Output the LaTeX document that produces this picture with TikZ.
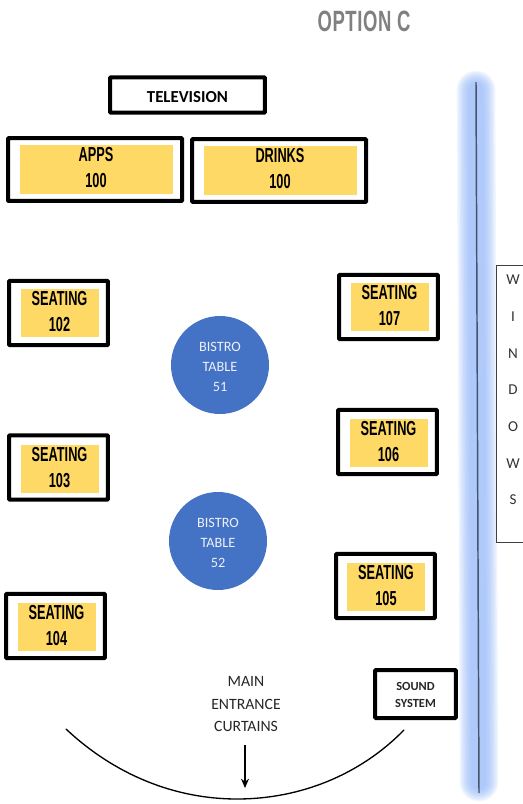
\documentclass[tikz,border=0pt]{standalone}
\usepackage{fontspec}
\setmainfont{Carlito}
\newfontfamily\narrowfont[FakeStretch=0.63]{Liberation Sans Bold}
\newfontfamily\titlefont[FakeStretch=0.63,LetterSpace=2]{Liberation Sans Bold}
\usetikzlibrary{arrows.meta}
\definecolor{fillyellow}{HTML}{FFD966}
\definecolor{bistro}{HTML}{4472C4}
\definecolor{glow}{HTML}{8FB4F8}
\definecolor{wallline}{HTML}{44546A}
\newcommand\padlines[2]{#1\\#2\rule[-2.2pt]{0pt}{0pt}}
\newcommand\tablelines[1]{\rule{0pt}{10pt}BISTRO\\TABLE\\#1}
\tikzset{
  x=0.75pt,y=-0.75pt,
  framebox/.style={draw=black,line width=3pt,fill=white,rounded corners=0.6pt,inner sep=0pt},
  bigframe/.style={framebox,minimum width=130.5pt,minimum height=47.2pt},
  seatframe/.style={framebox,minimum width=74.2pt,minimum height=48.2pt},
  yellowpad/.style={fill=fillyellow,draw=white,line width=0.5pt,inner sep=0pt,align=center,text=black,
    font=\narrowfont\fontsize{15.2pt}{19.5pt}\selectfont},
  bigpad/.style={yellowpad,minimum width=115.5pt,minimum height=37.5pt},
  seatpad/.style={yellowpad,minimum width=59.5pt,minimum height=36.5pt},
  bistrotable/.style={circle,fill=bistro,minimum size=73.5pt,inner sep=0pt,align=center,text=white!90!bistro,
    font=\fontsize{10.7pt}{15pt}\selectfont},
  plainlabel/.style={inner sep=0pt,align=center,text=black!85,font=\fontsize{11.8pt}{16.9pt}\selectfont},
}
\begin{document}
\begin{tikzpicture}
\useasboundingbox (0,0) rectangle (522,804);
% glow behind the window wall
\coordinate (wallTop) at (476,82);
\coordinate (wallBottom) at (479,793);
\coordinate (glowTop) at (476,90);
\coordinate (glowBottom) at (479,782);
\foreach \w in {29,27,25,23,21,19,17,15,13,11}{
  \draw[glow,line width=\w pt,line cap=round,opacity=0.12] (glowTop) -- (glowBottom);
}
\draw[wallline,line width=1.1pt] (wallTop) -- (wallBottom);

\node[font=\titlefont\fontsize{22pt}{24pt}\selectfont,text=black!50,inner sep=0pt] (title) at (364,21) {OPTION C};

\node[framebox,minimum width=116pt,minimum height=26.5pt,font=\bfseries\fontsize{12.6pt}{14pt}\selectfont] (tv) at (187.5,95) {\rule{0pt}{11pt}TELEVISION};

\node[bigframe] (appsF) at (95,169.5) {};
\node[bigpad] (apps) at (96,169) {\padlines{APPS}{100}};
\node[bigframe] (drinksF) at (279,170.5) {};
\node[bigpad] (drinks) at (280,170) {\padlines{DRINKS}{100}};

\node[seatframe] (s102F) at (58.5,313) {};
\node[seatpad] (s102) at (59.5,313) {\padlines{SEATING}{102}};
\node[seatframe] (s103F) at (58.5,467.5) {};
\node[seatpad] (s103) at (59.5,469) {\padlines{SEATING}{103}};
\node[seatframe] (s104F) at (55.5,626) {};
\node[seatpad] (s104) at (56.5,626.5) {\padlines{SEATING}{104}};
\node[seatframe] (s107F) at (388.5,307) {};
\node[seatpad] (s107) at (389.5,307) {\padlines{SEATING}{107}};
\node[seatframe] (s106F) at (387.5,442) {};
\node[seatpad] (s106) at (388.5,442.5) {\padlines{SEATING}{106}};
\node[seatframe] (s105F) at (385.5,586) {};
\node[seatpad] (s105) at (386,586.5) {\padlines{SEATING}{105}};

\node[bistrotable] (t51) at (220,365) {\tablelines{51}};
\node[bistrotable] (t52) at (218,541) {\tablelines{52}};

\node[framebox,minimum width=60.5pt,minimum height=36pt,align=center,text=black!85,
  font=\bfseries\fontsize{9.3pt}{12.4pt}\selectfont] (sound) at (415.5,694) {\rule{0pt}{7.5pt}SOUND\\SYSTEM};

\node[draw=black!75,line width=0.6pt,minimum width=25.5pt,minimum height=208pt,fill=white,inner sep=0pt,
  align=center,text=black!80,font=\fontsize{11.3pt}{27.5pt}\selectfont] (windows) at (513,404)
  {W\\I\\N\\D\\O\\W\\S\rule[-21pt]{0pt}{0pt}};

\node[plainlabel] (entrance) at (246,704) {MAIN\\ENTRANCE\\CURTAINS};

\coordinate (arcLeft) at (66,729);
\coordinate (arcBottom) at (237,799);
\coordinate (arcRight) at (404,730);
\coordinate (arrowStart) at (245,745);
\coordinate (arrowEnd) at (245,788);
\draw[black,line width=1pt,line cap=round] (arcLeft) .. controls (115,775) and (175,799) .. (arcBottom)
   .. controls (300,799) and (360,775) .. (arcRight);
\draw[black,line width=0.8pt,-{Stealth[length=7pt,width=6pt]}] (arrowStart) -- (arrowEnd);
\end{tikzpicture}
\end{document}
